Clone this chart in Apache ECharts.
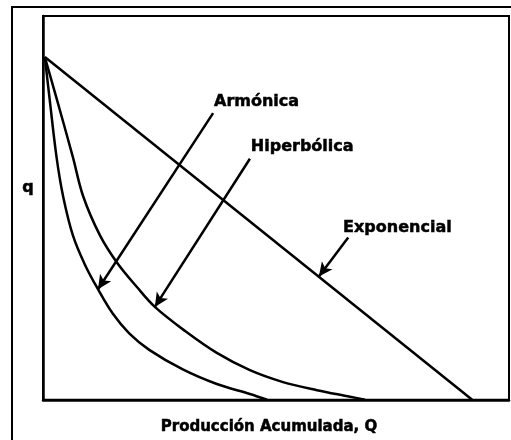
<!DOCTYPE html>
<html>
<head>
<meta charset="utf-8">
<script src="https://cdn.jsdelivr.net/npm/echarts@6/dist/echarts.min.js"></script>
<style>
html,body{margin:0;padding:0;background:#fff;}
#chart{width:511px;height:440px;}
</style>
</head>
<body>
<div id="chart"></div>
<script>
// curvas de declinación: q vs Q (unidades relativas 0-100)
var exponencial = [[0.4, 89.3], [92.1, 0]];
var armonica = [[0.4, 89.3], [1.4, 78.6], [2.9, 63.3], [4.3, 53.1], [6.4, 42.9],
    [9.0, 35.2], [11.8, 28.8], [15.0, 22.4], [18.5, 17.3], [22.8, 13.0], [30.0, 7.9],
    [37.3, 4.1], [44.4, 1.5], [48.1, 0]];
var hiperbolica = [[0.4, 89.3], [2.9, 78.6], [6.4, 63.3], [8.6, 53.1], [12.2, 42.9],
    [15.9, 35.7], [20.2, 29.3], [24.0, 24.2], [30.5, 17.9], [37.3, 12.2], [44.4, 7.7],
    [51.5, 4.6], [58.8, 2.5], [65.9, 0.8], [69.1, 0]];

// flechas [desde, hasta]
var flechaArm = [[36.5, 74.7], [11.8, 28.8]];
var flechaHip = [[44.4, 62.8], [24.0, 24.2]];
var flechaExp = [[65.5, 42.3], [59.2, 32.1]];

// etiquetas
var etiquetas = [
    {name: 'Armónica', coord: [36.7, 77.6]},
    {name: 'Hiperbólica', coord: [44.6, 65.8]},
    {name: 'Exponencial', coord: [64.4, 44.7]}
];

var fuente = 'DejaVu Sans';
var chart = echarts.init(document.getElementById('chart'));

function curva(datos, extra) {
    var s = {
        type: 'line',
        data: datos,
        smooth: 0.35,
        showSymbol: false,
        silent: true,
        lineStyle: {color: '#000', width: 2.5}
    };
    if (extra) {
        for (var k in extra) s[k] = extra[k];
    }
    return s;
}

function flecha(f) {
    return [{coord: f[0]}, {coord: f[1]}];
}

var texto = {
    fontFamily: fuente, fontWeight: 'bold', fontSize: 16, color: '#000',
    textBorderColor: '#000', textBorderWidth: 0.5
};

var option = {
    animation: false,
    backgroundColor: '#fff',
    grid: {
        left: 43, right: 2, top: 16, bottom: 32,
        show: true,
        borderColor: '#000',
        borderWidth: 2
    },
    xAxis: {
        type: 'value', min: 0, max: 100,
        axisLine: {show: true, lineStyle: {color: '#000', width: 2.5}},
        axisTick: {show: false},
        axisLabel: {show: false},
        splitLine: {show: false},
        name: 'Producción Acumulada, Q',
        nameLocation: 'middle',
        nameGap: 20,
        nameTextStyle: {
            fontFamily: fuente, fontWeight: 'bold', fontSize: 15, color: '#000',
            textBorderColor: '#000', textBorderWidth: 0.5,
            padding: [0, 14, 0, 0]
        }
    },
    yAxis: {
        type: 'value', min: 0, max: 100,
        axisLine: {show: true, lineStyle: {color: '#000', width: 2.5}},
        axisTick: {show: false},
        axisLabel: {show: false},
        splitLine: {show: false}
    },
    graphic: [
        {
            type: 'rect', silent: true,
            shape: {x: 12, y: 7, width: 700, height: 700},
            style: {fill: 'none', stroke: '#000', lineWidth: 2}
        },
        {
            type: 'text', left: 22, top: 180,
            style: {
                text: 'q', font: 'bold 16px "DejaVu Sans"', fill: '#000',
                stroke: '#000', lineWidth: 0.5
            }
        }
    ],
    series: [
        curva(exponencial, {smooth: false}),
        curva(armonica),
        curva(hiperbolica, {
            markLine: {
                silent: true,
                symbol: ['none', 'arrow'],
                symbolSize: [10, 14],
                label: {show: false},
                lineStyle: {color: '#000', width: 2.5, type: 'solid'},
                data: [flecha(flechaArm), flecha(flechaHip), flecha(flechaExp)]
            },
            markPoint: {
                silent: true,
                symbol: 'circle',
                symbolSize: 0,
                label: Object.assign({
                    show: true,
                    position: 'right',
                    distance: 0,
                    formatter: '{b}'
                }, texto),
                data: etiquetas
            }
        })
    ]
};

chart.setOption(option);
</script>
</body>
</html>
